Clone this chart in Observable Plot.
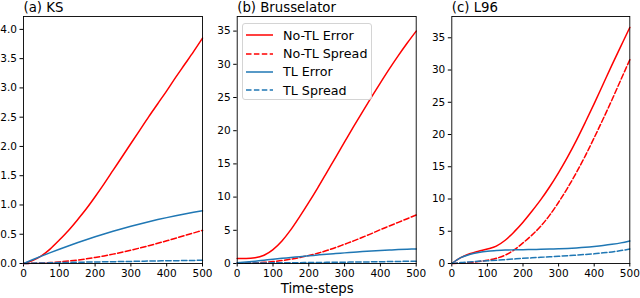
<!DOCTYPE html>
<html><head><meta charset="utf-8">
<script src="https://cdn.jsdelivr.net/npm/d3@7"></script>
<script src="https://cdn.jsdelivr.net/npm/@observablehq/plot@0.6"></script>
<style>
body{margin:0;background:#fff;font-family:"DejaVu Sans",sans-serif;}
#wrap{position:relative;width:640px;height:298px;overflow:hidden;background:#fff}
.panel{position:absolute;top:0}
#legend{position:absolute;left:241.5px;top:23px;width:130px;height:77px;box-sizing:border-box;border:1px solid #d4d4d4;border-radius:3px;background:rgba(255,255,255,0.8);padding-top:2px;font-family:"DejaVu Sans",sans-serif;font-size:12.7px;color:#000}
#legend .row{height:18.4px;display:flex;align-items:center;white-space:nowrap}
#legend svg{margin-left:3.5px;margin-right:10px;flex:none}
</style></head><body><div id="wrap"></div><script>
// ---- data ----
const steps = [0,25,50,75,100,125,150,175,200,225,250,275,300,325,350,375,400,425,450,475,500];
const seriesNames = ["No-TL Error","No-TL Spread","TL Error","TL Spread"];
const panelTitles = ["(a) KS","(b) Brusselator","(c) L96"];
const xLabel = "Time-steps";
const xTicks = [0,100,200,300,400,500];
const ksTicks = [0,0.5,1,1.5,2,2.5,3,3.5,4];
const brTicks = [0,5,10,15,20,25,30,35];
const l96Ticks = [0,5,10,15,20,25,30,35];

const ksNoTLError  = [0,0.05,0.13,0.25,0.4,0.56,0.74,0.93,1.14,1.36,1.59,1.82,2.05,2.28,2.51,2.73,2.95,3.18,3.4,3.62,3.85];
const ksNoTLSpread = [0,0.003,0.008,0.016,0.027,0.041,0.058,0.079,0.103,0.13,0.16,0.193,0.228,0.265,0.304,0.345,0.388,0.432,0.477,0.522,0.567];
const ksTLError    = [0,0.064,0.126,0.186,0.244,0.3,0.354,0.406,0.456,0.504,0.55,0.594,0.636,0.676,0.714,0.75,0.784,0.816,0.846,0.874,0.9];
const ksTLSpread   = [0,0.005,0.008,0.012,0.015,0.018,0.021,0.024,0.026,0.029,0.031,0.034,0.036,0.039,0.041,0.044,0.046,0.048,0.051,0.053,0.055];

const brNoTLError  = [0.75,0.74,0.85,1.25,2.1,3.4,5.1,7.1,9.2,11.4,13.7,16.0,18.3,20.6,22.85,25.05,27.2,29.3,31.3,33.2,35.0];
const brNoTLSpread = [0.05,0.06,0.1,0.17,0.3,0.45,0.65,0.9,1.2,1.55,1.95,2.4,2.9,3.4,3.95,4.5,5.1,5.65,6.2,6.75,7.3];
const brTLError    = [0.1,0.22,0.35,0.5,0.65,0.78,0.9,1.03,1.15,1.28,1.4,1.5,1.6,1.7,1.8,1.88,1.95,2.03,2.1,2.15,2.2];
const brTLSpread   = [0.05,0.06,0.07,0.08,0.1,0.11,0.12,0.13,0.15,0.16,0.17,0.19,0.2,0.22,0.23,0.25,0.27,0.29,0.31,0.33,0.35];

const l96NoTLError  = [0,0.9,1.5,1.9,2.25,2.7,3.6,4.9,6.4,8.1,9.9,11.9,14.1,16.5,19.1,21.9,24.8,27.8,30.8,33.7,36.6];
const l96NoTLSpread = [0,0.05,0.15,0.3,0.5,0.8,1.3,2.1,3.2,4.4,5.8,7.5,9.5,11.7,14.1,16.7,19.5,22.4,25.4,28.5,31.6];
const l96TLError    = [0,0.9,1.4,1.7,1.9,2.0,2.08,2.12,2.15,2.18,2.2,2.24,2.28,2.34,2.42,2.52,2.65,2.8,2.98,3.2,3.5];
const l96TLSpread   = [0,0.15,0.25,0.35,0.42,0.5,0.6,0.7,0.8,0.88,0.96,1.04,1.12,1.2,1.3,1.4,1.5,1.65,1.8,2.0,2.25];

// ---- styles ----
const seriesColor = ["#ff0000","#ff0000","#1f77b4","#1f77b4"];
const seriesDash  = [null,"5.5,2.4",null,"5.5,2.4"];

const panels = [
  {title: panelTitles[0], series: [ksNoTLError, ksNoTLSpread, ksTLError, ksTLSpread], yMax: 4.22, ticks: ksTicks, fmt: d3.format(".1f"),
   left: 0, width: 213, ml: 23, mr: 11},
  {title: panelTitles[1], series: [brNoTLError, brNoTLSpread, brTLError, brTLSpread], yMax: 37.2, ticks: brTicks, fmt: d3.format("d"),
   left: 213, width: 213, ml: 23.7, mr: 10.3, xlabel: xLabel},
  {title: panelTitles[2], series: [l96NoTLError, l96NoTLSpread, l96TLError, l96TLSpread], yMax: 38.3, ticks: l96Ticks, fmt: d3.format("d"),
   left: 426, width: 214, ml: 25.3, mr: 10.7}
];

const wrap = document.getElementById("wrap");

panels.forEach(p => {
  const marks = [];
  p.series.forEach((vals, i) => {
    const rows = steps.map((s, j) => ({step: s, value: vals[j]}));
    const opts = {x: "step", y: "value", stroke: seriesColor[i], strokeWidth: 1.5, curve: "monotone-x"};
    if (seriesDash[i]) opts.strokeDasharray = seriesDash[i];
    marks.push(Plot.line(rows, opts));
  });
  marks.push(Plot.frame({stroke: "#000", strokeWidth: 0.9}));
  marks.push(Plot.text([p.title], {frameAnchor: "top-left", text: d => d, dy: -4.5, lineAnchor: "bottom", textAnchor: "start", fontSize: 13.3, fill: "#000"}));
  if (p.xlabel) {
    marks.push(Plot.text([p.xlabel], {frameAnchor: "bottom", text: d => d, dx: -9.5, dy: 29, lineAnchor: "bottom", fontSize: 13.3, fill: "#000"}));
  }
  const chart = Plot.plot({
    width: p.width, height: 298,
    marginLeft: p.ml, marginRight: p.mr, marginTop: 16, marginBottom: 35,
    style: {fontFamily: "DejaVu Sans", fontSize: "10.5px", color: "#000", background: "transparent", overflow: "visible"},
    x: {domain: [0, 500], ticks: xTicks, tickSize: 3.5, tickPadding: 3, label: null, tickFormat: d3.format("d")},
    y: {domain: [0, p.yMax], ticks: p.ticks, tickSize: 3.5, tickPadding: 3, label: null, tickFormat: p.fmt},
    marks
  });
  const div = document.createElement("div");
  div.className = "panel";
  div.style.left = p.left + "px";
  div.appendChild(chart);
  wrap.appendChild(div);
});

// legend (inside panel b)
const legend = document.createElement("div");
legend.id = "legend";
seriesNames.forEach((name, i) => {
  const row = document.createElement("div");
  row.className = "row";
  const dash = seriesDash[i] ? ` stroke-dasharray="${seriesDash[i]}"` : "";
  row.innerHTML = `<svg width="27" height="6"><line x1="0" y1="3" x2="27" y2="3" stroke="${seriesColor[i]}" stroke-width="1.5"${dash}/></svg><span>${name}</span>`;
  legend.appendChild(row);
});
wrap.appendChild(legend);
</script></body></html>
